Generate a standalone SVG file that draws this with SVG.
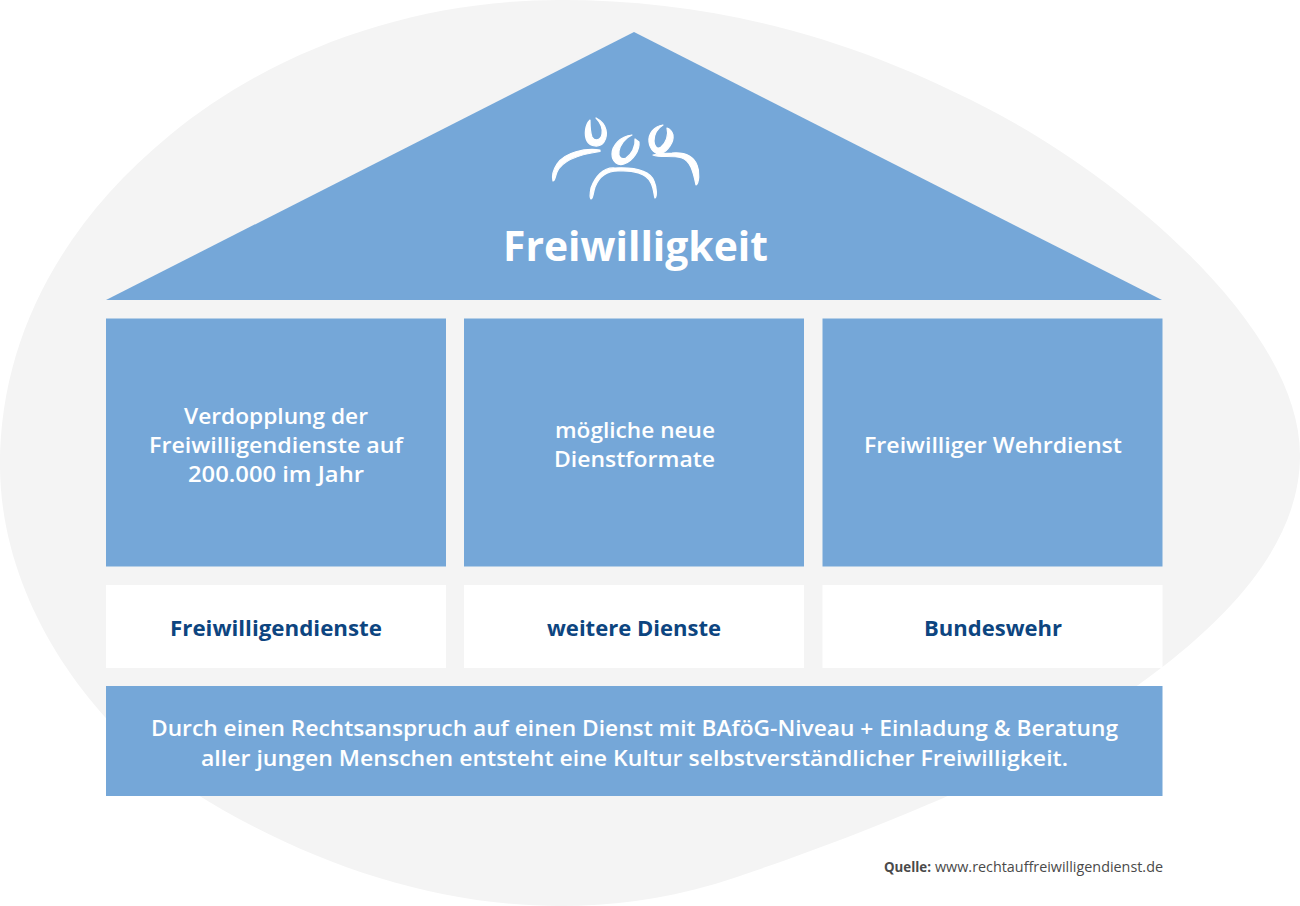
<svg xmlns="http://www.w3.org/2000/svg" width="1300" height="906" viewBox="0 0 1300 906">
<style>
.b{fill:#75a7d8}
.w{fill:#fff}
.i{fill:#fff;stroke:#fff;stroke-width:1.2;stroke-linejoin:round}
text{font-family:"Open Sans","Noto Sans","Liberation Sans",sans-serif;text-anchor:middle}
.t{fill:#fff;font-size:22px;font-weight:600}
.l{fill:#0d4580;font-size:22px;font-weight:700}
.q{fill:#4a4a4a;font-size:15px;text-anchor:start}
</style>
<path id="background" fill="#f4f4f4" d="M560 0C720 0 860 40 1000 115C1130 185 1300 330 1300 455C1300 540 1235 610 1165 665C1100 715 1030 760 950 795C880 826 790 860 715 884C660 900 610 906 560 906C430 906 300 860 190 790C90 725 0 600 0 465C0 340 60 225 170 135C280 45 420 0 560 0Z"/>
<g id="roof">
<polygon class="b" points="634,32 1162,300 106,300"/>
<g id="icon" class="i">
<path d="M590 120C585 125 584 135 587 141C590 147 600 148 604 142C608 136 608 124 596 118C600 122 603 128 602 134C601 140 595 142 592 137C590 132 590 125 590 120Z"/>
<path d="M600 150C585 148 565 152 557 164C553 170 552 177 553 181C555 181 555 177 557 172C563 159 582 154 600 151.500Z"/>
<path d="M632 135C620 136 612 146 612 154C612 162 618 166 624 164C633 161 640 150 639 142L635 139C636 147 631 155 626 158C621 160 618 157 619 151C620 145 625 138 632 135Z"/>
<path d="M615 168C603 167 595 177 591 188C590 193 590 198 591 199C593 199 593 193 595 187C599 177 606 171 618 171C632 170 647 173 651 183C654 189 654 196 655 198C657 197 657 188 654 181C650 171 635 167 615 168Z"/>
<path d="M663 125C654 126 648 134 649 142C650 150 656 155 661 154C668 151 674 142 673 135C672 131 670 129 667 128C669 135 666 143 661 147C657 150 654 146 654 141C654 134 658 128 663 125Z"/>
<path d="M653 155C660 158 672 155 682 158C690 161 693 170 696 185C699 183 700 172 697 165C693 155 684 152 672 153C664 153 657 154 653 155Z"/>
</g>
<text x="635.5" y="261" font-size="42" font-weight="700" fill="#fff" textLength="265" lengthAdjust="spacingAndGlyphs">Freiwilligkeit</text>
</g>
<g id="column-1">
<rect class="b" x="106" y="318.500" width="340" height="248"/>
<text class="t" x="276" y="424" textLength="184" lengthAdjust="spacingAndGlyphs">Verdopplung der</text>
<text class="t" x="276" y="453" textLength="254" lengthAdjust="spacingAndGlyphs">Freiwilligendienste auf</text>
<text class="t" x="276" y="482" textLength="176" lengthAdjust="spacingAndGlyphs">200.000 im Jahr</text>
</g>
<g id="column-2">
<rect class="b" x="464" y="318.500" width="340" height="248"/>
<text class="t" x="635" y="438" textLength="160" lengthAdjust="spacingAndGlyphs">mögliche neue</text>
<text class="t" x="634.500" y="467" textLength="161" lengthAdjust="spacingAndGlyphs">Dienstformate</text>
</g>
<g id="column-3">
<rect class="b" x="822.500" y="318.500" width="340" height="248"/>
<text class="t" x="993" y="453" textLength="258" lengthAdjust="spacingAndGlyphs">Freiwilliger Wehrdienst</text>
</g>
<g id="label-1">
<rect class="w" x="106" y="585" width="340" height="83"/>
<text class="l" x="276" y="636" textLength="212" lengthAdjust="spacingAndGlyphs">Freiwilligendienste</text>
</g>
<g id="label-2">
<rect class="w" x="464" y="585" width="340" height="83"/>
<text class="l" x="634" y="636" textLength="174" lengthAdjust="spacingAndGlyphs">weitere Dienste</text>
</g>
<g id="label-3">
<rect class="w" x="822.500" y="585" width="340" height="83"/>
<text class="l" x="993" y="636" textLength="138" lengthAdjust="spacingAndGlyphs">Bundeswehr</text>
</g>
<g id="foundation">
<rect class="b" x="106" y="686" width="1056.500" height="110"/>
<text class="t" x="634.500" y="736" textLength="967" lengthAdjust="spacingAndGlyphs">Durch einen Rechtsanspruch auf einen Dienst mit BAföG-Niveau + Einladung &amp; Beratung</text>
<text class="t" x="634.500" y="766" textLength="867" lengthAdjust="spacingAndGlyphs">aller jungen Menschen entsteht eine Kultur selbstverständlicher Freiwilligkeit.</text>
</g>
<g id="source">
<text class="q" x="884" y="872" font-weight="700" textLength="47" lengthAdjust="spacingAndGlyphs">Quelle:</text>
<text class="q" x="935" y="872" textLength="228" lengthAdjust="spacingAndGlyphs">www.rechtauffreiwilligendienst.de</text>
</g>
<g id="connectors"/>
</svg>
